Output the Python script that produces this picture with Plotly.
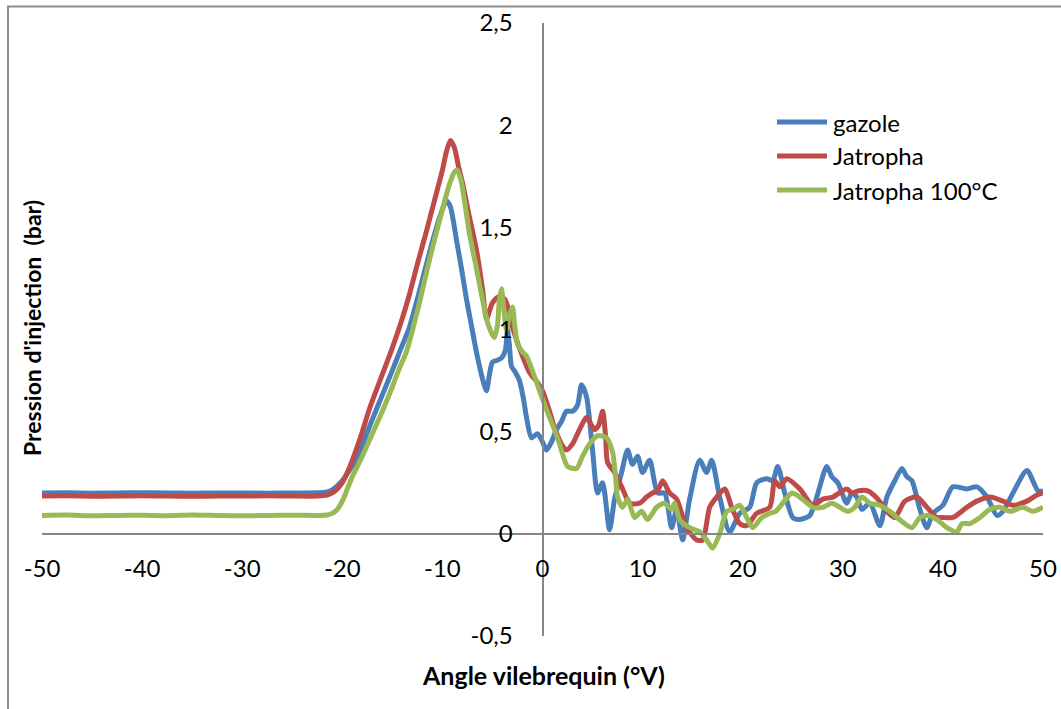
import plotly.graph_objects as go

# Injection pressure vs crankshaft angle for three fuels
series_names = ["gazole", "Jatropha", "Jatropha 100°C"]
series_colors = ["#4A7EBB", "#BE4B48", "#98B954"]

gazole_x = [-50, -47.5, -45, -42.5, -40, -37.5, -35, -32.5, -30, -27.5, -25, -22.5, -21.5, -21, -20.5, -20,
            -19.3, -18.6, -17.8, -17, -16, -15, -14.2, -13.3, -12.5, -11.7, -11, -10.2, -9.6, -9.2, -8.6,
            -8.1, -7.6, -7.1, -6.6, -6.0, -5.6, -5.3, -5.0, -4.5, -4.1, -3.7, -3.5, -3.3, -3.1, -2.7, -2.3,
            -1.9, -1.6, -1.1, -0.5, 0.0, 0.4, 0.9, 1.4, 1.9, 2.4, 3.0, 3.5, 3.9, 4.4, 5.0, 5.5, 6.0, 6.7,
            7.2, 7.9, 8.5, 9.0, 9.5, 10.0, 10.7, 11.5, 12.2, 12.9, 13.4, 14.0, 14.7, 15.7, 16.4, 16.9, 17.7,
            18.7, 19.7, 20.7, 21.4, 22.4, 23.0, 23.5, 24.2, 25.0, 25.7, 26.7, 27.4, 28.4, 28.9, 29.5, 30.4,
            30.9, 31.4, 31.9, 32.7, 33.7, 34.4, 35.2, 35.9, 36.4, 36.9, 37.7, 38.4, 39.0, 40.0, 41.0, 42.4,
            43.4, 44.4, 45.4, 46.0, 47.0, 48.4, 49.5, 50.0]
gazole_y = [0.20, 0.201, 0.199, 0.20, 0.201, 0.20, 0.199, 0.20, 0.20, 0.199, 0.20, 0.201, 0.205, 0.215, 0.235, 0.26,
            0.31, 0.36, 0.46, 0.56, 0.68, 0.80, 0.90, 1.01, 1.15, 1.30, 1.43, 1.56, 1.63, 1.60, 1.44,
            1.30, 1.15, 1.02, 0.89, 0.76, 0.70, 0.78, 0.84, 0.85, 0.86, 0.90, 1.00, 0.92, 0.82, 0.79, 0.75,
            0.66, 0.57, 0.47, 0.49, 0.45, 0.41, 0.45, 0.51, 0.55, 0.60, 0.60, 0.63, 0.73, 0.67, 0.41, 0.20, 0.25, 0.02,
            0.17, 0.30, 0.41, 0.34, 0.38, 0.30, 0.36, 0.20, 0.20, 0.03, 0.12, -0.03, 0.17, 0.36, 0.30, 0.36, 0.18,
            0.01, 0.10, 0.13, 0.25, 0.27, 0.26, 0.33, 0.20, 0.08, 0.07, 0.09, 0.18, 0.33, 0.28, 0.25, 0.15,
            0.20, 0.18, 0.12, 0.15, 0.04, 0.18, 0.26, 0.32, 0.28, 0.26, 0.12, 0.03, 0.10, 0.14, 0.23, 0.22,
            0.23, 0.18, 0.09, 0.11, 0.20, 0.31, 0.21, 0.21]

jatropha_x = [-50, -47.5, -45, -42.5, -40, -37.5, -35, -32.5, -30, -27.5, -25, -22.5, -21.5, -21, -20.5, -20,
              -19.5, -19, -18, -17.3, -16, -15, -14.1, -13.3, -12.5, -11.6, -10.8, -10, -9.6, -9.2, -8.8,
              -8.4, -8, -7.3, -6.6, -6, -5.6, -5.3, -5.0, -4.4, -3.8, -3.4, -3.1, -2.6, -2.0, -1.3, -0.5,
              0.0, 0.7, 1.2, 2.0, 2.4, 3.0, 3.4, 4.0, 4.4, 4.8, 5.2, 5.6, 6.0, 6.3, 6.5, 7.2, 8.0, 8.7,
              9.7, 10.4, 11.0, 11.5, 12.0, 12.7, 13.4, 14.4, 15.4, 16.0, 16.7, 17.4, 18.2, 18.9, 19.7, 20.4,
              21.4, 22.7, 23.2, 23.7, 24.4, 25.7, 27.0, 28.0, 29.0, 30.4, 30.9, 31.5, 32.5, 33.5, 34.4, 35.2,
              36.2, 37.4, 38.4, 39.4, 40.0, 41.0, 42.4, 43.4, 44.7, 46.0, 47.0, 48.4, 49.4, 50.0]
jatropha_y = [0.185, 0.186, 0.184, 0.185, 0.186, 0.185, 0.184, 0.185, 0.185, 0.186, 0.185, 0.185, 0.19, 0.20, 0.22, 0.25,
              0.30, 0.36, 0.50, 0.61, 0.78, 0.91, 1.04, 1.17, 1.32, 1.48, 1.63, 1.78, 1.87, 1.925, 1.89,
              1.80, 1.72, 1.55, 1.39, 1.20, 1.05, 1.09, 1.13, 1.16, 1.15, 1.10, 1.03, 0.95, 0.87, 0.79, 0.74,
              0.70, 0.60, 0.52, 0.43, 0.41, 0.44, 0.48, 0.54, 0.57, 0.54, 0.51, 0.53, 0.60, 0.48, 0.35, 0.30, 0.22, 0.15,
              0.15, 0.18, 0.20, 0.21, 0.26, 0.20, 0.17, 0.03, -0.03, -0.03, 0.13, 0.18, 0.22, 0.13, 0.05, 0.04,
              0.10, 0.13, 0.26, 0.23, 0.27, 0.22, 0.14, 0.17, 0.18, 0.22, 0.20, 0.21, 0.21, 0.17, 0.11, 0.08,
              0.16, 0.18, 0.13, 0.08, 0.08, 0.08, 0.13, 0.16, 0.18, 0.16, 0.14, 0.16, 0.19, 0.20]

jatropha100_x = [-50, -47.5, -45, -42.5, -40, -37.5, -35, -32.5, -30, -27.5, -25, -22.5, -21.5, -21, -20.5, -20,
                 -19.5, -19, -18, -17, -16, -15, -14.3, -13.6, -12.5, -11.3, -10.2, -9.3, -8.8, -8.5, -8.1,
                 -7.3, -6.6, -6.0, -5.4, -4.8, -4.5, -4.3, -4.1, -3.9, -3.6, -3.3, -3.0, -2.8, -2.5, -2.0, -1.6,
                 -0.8, 0.0, 0.7, 1.2, 1.7, 2.5, 3.4, 4.0, 4.7, 5.5, 6.4, 7.0, 7.3, 7.5, 8.0, 8.5, 9.2, 9.9,
                 10.5, 11.4, 12.2, 12.9, 13.2, 13.7, 14.7, 15.7, 16.4, 17.0, 17.7, 18.4, 19.0, 19.7, 20.4, 21.0,
                 21.9, 22.7, 23.3, 24.0, 24.9, 25.7, 27.0, 28.0, 28.9, 29.7, 30.5, 31.2, 31.9, 32.7, 33.7, 34.7,
                 35.9, 36.9, 37.7, 38.5, 39.4, 40.4, 41.4, 41.9, 42.7, 43.7, 44.7, 45.7, 46.7, 48.0, 49.0, 50.0]
jatropha100_y = [0.09, 0.092, 0.088, 0.09, 0.091, 0.089, 0.092, 0.09, 0.088, 0.09, 0.091, 0.09, 0.092, 0.10, 0.12, 0.16,
                 0.22, 0.28, 0.38, 0.49, 0.60, 0.72, 0.81, 0.89, 1.09, 1.34, 1.55, 1.71, 1.77, 1.78, 1.72,
                 1.47, 1.30, 1.15, 1.02, 0.96, 1.02, 1.15, 1.20, 1.12, 1.00, 1.07, 1.11, 1.03, 0.93, 0.89, 0.87,
                 0.77, 0.66, 0.57, 0.51, 0.44, 0.33, 0.32, 0.38, 0.44, 0.48, 0.47, 0.40, 0.28, 0.18, 0.13, 0.17, 0.08, 0.11,
                 0.07, 0.13, 0.15, 0.12, 0.15, 0.07, 0.03, 0.01, -0.03, -0.07, 0.00, 0.11, 0.12, 0.14, 0.08, 0.03,
                 0.08, 0.10, 0.11, 0.15, 0.20, 0.18, 0.13, 0.13, 0.15, 0.13, 0.11, 0.13, 0.18, 0.15, 0.14, 0.11,
                 0.06, 0.03, 0.08, 0.09, 0.07, 0.03, 0.01, 0.05, 0.05, 0.08, 0.12, 0.13, 0.11, 0.13, 0.11, 0.13]

x_tick_vals = [-50, -40, -30, -20, -10, 0, 10, 20, 30, 40, 50]
x_tick_text = ["-50", "-40", "-30", "-20", "-10", "0", "10", "20", "30", "40", "50"]
y_tick_vals = [-0.5, 0, 0.5, 1, 1.5, 2, 2.5]
y_tick_text = ["-0,5", "0", "0,5", "1", "1,5", "2", "2,5"]

x_title = "Angle vilebrequin (°V)"
y_title = "Pression d'injection  (bar)"

FONT = "Lato"
FS = 24
AXIS_GREY = "#868686"

fig = go.Figure()
all_x = [gazole_x, jatropha_x, jatropha100_x]
all_y = [gazole_y, jatropha_y, jatropha100_y]
for name, color, xs, ys in zip(series_names, series_colors, all_x, all_y):
    fig.add_trace(go.Scatter(
        x=xs, y=ys, name=name, mode="lines",
        line=dict(color=color, width=5, shape="spline", smoothing=0.7),
        showlegend=False,
    ))

# Pixel geometry of the plotting area
W, H = 1061, 709
ML, MR, MT, MB = 42, 18, 23, 73
PW, PH = W - ML - MR, H - MT - MB


def px_to_paper_x(px):
    return (px - ML) / PW


def py_to_paper_y(py):
    return (H - MB - py) / PH


# Legend drawn as short line samples with labels, top right of the plot
shapes = []
annotations = []
legend_rows_py = [122, 156, 190]
for name, color, py in zip(series_names, series_colors, legend_rows_py):
    shapes.append(dict(type="line", xref="paper", yref="paper",
                       x0=px_to_paper_x(777), x1=px_to_paper_x(827),
                       y0=py_to_paper_y(py), y1=py_to_paper_y(py),
                       line=dict(color=color, width=5)))
    annotations.append(dict(text=name, xref="paper", yref="paper",
                            x=px_to_paper_x(831), y=py_to_paper_y(py),
                            xanchor="left", yanchor="middle", showarrow=False,
                            font=dict(family=FONT, size=FS, color="black")))

# Chart-area frame
shapes.append(dict(type="rect", xref="paper", yref="paper", layer="below",
                   x0=px_to_paper_x(8), x1=px_to_paper_x(1070),
                   y0=py_to_paper_y(720), y1=py_to_paper_y(6.5),
                   line=dict(color="#8C8C8C", width=2), fillcolor="rgba(0,0,0,0)"))

annotations.append(dict(text=f"<b>{x_title}</b>", xref="paper", yref="paper",
                        x=px_to_paper_x(543), y=py_to_paper_y(675),
                        xanchor="center", yanchor="middle", showarrow=False,
                        font=dict(family=FONT, size=25, color="black")))
annotations.append(dict(text=f"<b>{y_title}</b>", xref="paper", yref="paper",
                        x=px_to_paper_x(32), y=py_to_paper_y(328), textangle=-90,
                        xanchor="center", yanchor="middle", showarrow=False,
                        font=dict(family=FONT, size=23, color="black")))

fig.update_layout(
    width=W, height=H,
    margin=dict(l=ML, r=MR, t=MT, b=MB, pad=0, autoexpand=False),
    paper_bgcolor="white", plot_bgcolor="white",
    font=dict(family=FONT, size=FS, color="black"),
    shapes=shapes, annotations=annotations,
    xaxis=dict(range=[-50, 50], tickvals=x_tick_vals, ticktext=x_tick_text, automargin=False,
               showgrid=False, zeroline=False, showline=True, linecolor=AXIS_GREY, linewidth=2,
               anchor="free", position=1 / 6, ticks="", ticklabelstandoff=13),
    yaxis=dict(range=[-0.5, 2.5], tickvals=y_tick_vals, ticktext=y_tick_text, automargin=False,
               showgrid=False, zeroline=False, showline=True, linecolor=AXIS_GREY, linewidth=2,
               anchor="free", position=0.5, ticks="", ticklabelstandoff=24),
)

fig.write_html("out.html")
